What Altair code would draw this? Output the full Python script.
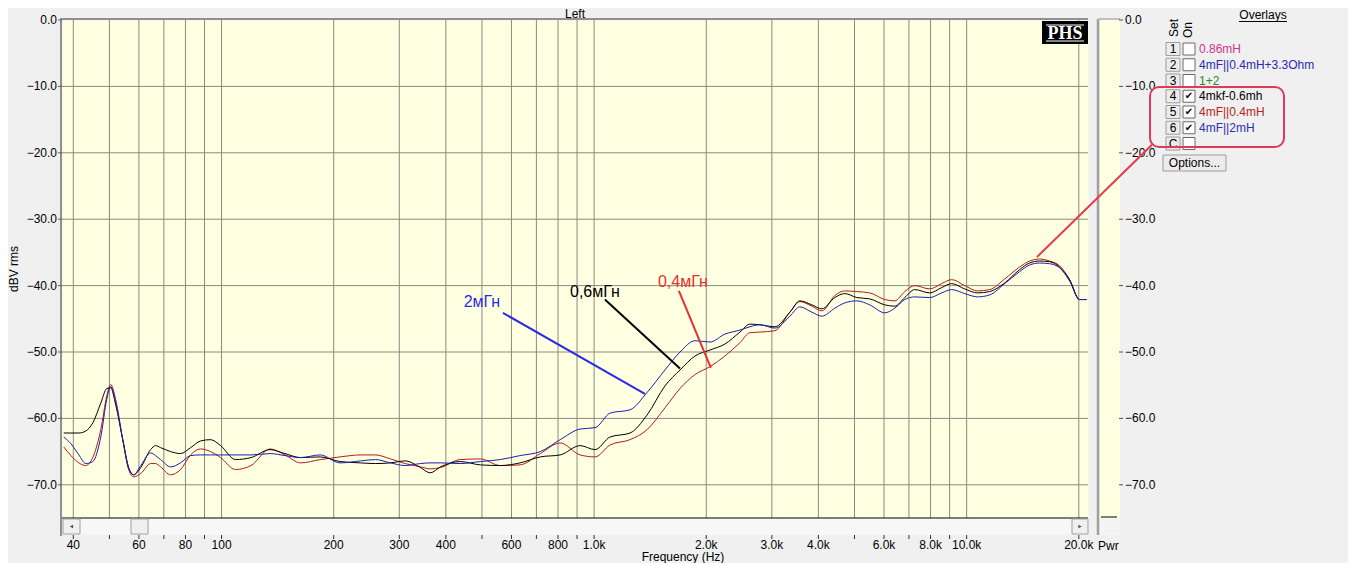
import altair as alt
import pandas as pd

# ---------------- data ----------------
freqs = [37.7, 39.4, 41.4, 43.2, 45.1, 47.4, 49.2, 50.4, 52.0, 54.3,
         56.3, 58.1, 60.7, 64.5, 66.5, 68.6, 73.0, 77.6, 82.6, 87.8,
         93.4, 99.4, 109, 120, 135, 148, 163, 184, 208, 236,
         259, 284, 311, 342, 363, 387, 437, 495, 560, 633,
         717, 811, 917, 1006, 1104, 1249, 1387, 1550, 1701, 1866,
         2047, 2245, 2463, 2620, 2786, 3057, 3354, 3567, 3841, 4086,
         4428, 4709, 5072, 5495, 6028, 6412, 6822, 7255, 7959, 8570,
         9117, 9877, 10700, 11530, 12650, 13870, 14750, 15690, 16690, 17750,
         18890, 20090, 20980]

black_db = [-62.2, -62.2, -62.2, -61.9, -60.7, -57.7, -55.5, -55.4, -58.0, -63.2,
            -67.4, -68.5, -67.4, -64.7, -64.1, -64.4, -65.0, -65.3, -64.4, -63.4,
            -63.2, -64.1, -66.2, -65.9, -64.7, -65.3, -65.9, -65.8, -66.5, -66.7,
            -66.8, -66.7, -66.4, -67.4, -68.2, -67.3, -66.5, -67.0, -67.1, -66.7,
            -65.8, -65.5, -64.1, -64.7, -62.8, -62.2, -59.5, -55.1, -52.7, -50.6,
            -49.7, -48.8, -47.0, -45.8, -45.9, -46.2, -44.0, -42.3, -42.9, -43.5,
            -41.8, -41.2, -41.8, -42.0, -42.9, -43.1, -41.8, -40.6, -41.1, -40.3,
            -39.7, -40.5, -41.1, -40.9, -39.6, -37.6, -36.6, -36.3, -36.4, -37.2,
            -39.1, -42.1, -42.1]

red_db = [-64.3, -65.6, -66.7, -67.1, -65.9, -61.7, -56.6, -54.9, -57.2, -63.2,
          -67.7, -68.8, -68.3, -66.8, -66.8, -67.3, -68.5, -67.7, -65.5, -64.6,
          -65.0, -65.9, -67.7, -67.1, -64.6, -65.5, -66.7, -66.2, -65.8, -65.5,
          -65.5, -66.1, -66.8, -67.3, -67.6, -67.4, -66.2, -66.1, -67.1, -67.0,
          -65.3, -63.7, -65.5, -65.8, -64.0, -63.2, -61.7, -58.4, -55.5, -53.4,
          -52.2, -50.6, -48.6, -47.1, -47.0, -46.8, -44.0, -42.4, -43.1, -43.8,
          -41.5, -40.8, -40.9, -41.1, -42.1, -42.3, -40.9, -40.0, -40.5, -39.7,
          -39.1, -40.0, -40.8, -40.6, -39.0, -37.2, -36.3, -36.0, -36.3, -37.0,
          -39.1, -42.1, -42.1]

blue_db = [-62.8, -63.8, -65.5, -66.8, -66.5, -62.8, -57.1, -55.2, -57.7, -63.2,
           -67.4, -68.5, -67.1, -65.2, -65.6, -66.2, -67.3, -66.7, -65.6, -65.5,
           -65.5, -65.5, -65.5, -65.5, -65.3, -65.6, -65.9, -65.5, -66.7, -66.4,
           -66.2, -66.7, -67.1, -66.8, -66.7, -66.7, -66.8, -66.5, -66.2, -65.6,
           -65.0, -63.2, -61.6, -61.4, -59.2, -58.7, -56.1, -52.7, -50.0, -48.3,
           -48.5, -47.3, -46.7, -46.2, -45.9, -46.4, -44.6, -43.2, -44.0, -44.6,
           -43.4, -42.6, -42.3, -42.9, -44.1, -43.4, -42.1, -41.7, -41.8, -41.1,
           -40.6, -41.2, -41.7, -41.4, -39.7, -37.9, -36.9, -36.6, -36.7, -37.3,
           -39.3, -42.1, -42.1]

grid_freqs = [40, 50, 60, 70, 80, 90, 100, 200, 300, 400, 500, 600, 700, 800, 900,
              1000, 2000, 3000, 4000, 5000, 6000, 7000, 8000, 9000, 10000, 20000]
label_freqs = [40, 60, 80, 100, 200, 300, 400, 600, 800, 1000, 2000, 3000, 4000,
               6000, 8000, 10000, 20000]
label_texts = ["40", "60", "80", "100", "200", "300", "400", "600", "800", "1.0k",
               "2.0k", "3.0k", "4.0k", "6.0k", "8.0k", "10.0k", "20.0k"]
db_ticks = [0, -10, -20, -30, -40, -50, -60, -70]

overlay_set = ["1", "2", "3", "4", "5", "6", "C"]
overlay_labels = ["0.86mH", "4mF||0.4mH+3.3Ohm", "1+2", "4mkf-0.6mh", "4mF||0.4mH", "4mF||2mH", ""]
overlay_colors = ["#d0338a", "#2a2ab0", "#2a8a2a", "#000000", "#b52525", "#2f2fb0", "#000000"]
overlay_on = [False, False, False, True, True, True, False]

annot_text = ["2мГн", "0,6мГн", "0,4мГн"]
annot_text_f = [500, 1005, 1731]
annot_text_db = [-42.4, -40.9, -39.4]
annot_f1 = [569, 1069, 1689]
annot_db1 = [-44.1, -42.1, -40.8]
annot_f2 = [1369, 1700, 2058]
annot_db2 = [-56.3, -52.5, -52.4]
annot_colors = ["#2b2be6", "#000000", "#e8302c"]

pointer_f = [15440, 31440]
pointer_db = [-35.7, -18.8]

# ---------------- styling ----------------
FONT = "Liberation Sans"
GRID = "#8a8a82"
W, H = 1026, 498
xs = alt.Scale(type="log", domain=[37.3, 21170], nice=False)
ys = alt.Scale(domain=[-75, 0], nice=False, zero=False)
one = pd.DataFrame({"k": [0]})


def T(s, x, y, **kw):
    kw.setdefault("font", FONT)
    kw.setdefault("fontSize", 12)
    kw.setdefault("color", "#000000")
    return alt.Chart(one).mark_text(**kw).encode(
        x=alt.value(x), y=alt.value(y), text=alt.value(s))


def R(x1, x2, y1, y2, **kw):
    return alt.Chart(one).mark_rect(**kw).encode(
        x=alt.value(x1), x2=alt.value(x2), y=alt.value(y1), y2=alt.value(y2))


def L(x1, x2, y1, y2, **kw):
    return alt.Chart(one).mark_rule(**kw).encode(
        x=alt.value(x1), x2=alt.value(x2), y=alt.value(y1), y2=alt.value(y2))


# grid lines (drawn through the scales)
vgrid = alt.Chart(pd.DataFrame({"f": grid_freqs})).mark_rule(color=GRID, strokeWidth=1).encode(
    x=alt.X("f:Q", scale=xs, axis=None))
hgrid = alt.Chart(pd.DataFrame({"v": db_ticks[1:]})).mark_rule(color=GRID, strokeWidth=1).encode(
    y=alt.Y("v:Q", scale=ys, axis=None))

# x axis: ticks + labels
xtick = alt.Chart(pd.DataFrame({"f": grid_freqs})).mark_rule(color="#303030", strokeWidth=1).encode(
    x=alt.X("f:Q", scale=xs, axis=None), y=alt.value(515), y2=alt.value(519))
xlab = alt.Chart(pd.DataFrame({"f": label_freqs, "t": label_texts})).mark_text(
    font=FONT, fontSize=12, color="#000000", baseline="top").encode(
    x=alt.X("f:Q", scale=xs, axis=None), y=alt.value(520), text="t:N")

# left y axis
ydf = pd.DataFrame({"v": db_ticks})
ytick = alt.Chart(ydf).mark_rule(color="#606060").encode(
    x=alt.value(-4), x2=alt.value(0), y=alt.Y("v:Q", scale=ys, axis=None))
ylab = alt.Chart(ydf).mark_text(align="right", font=FONT, fontSize=12, color="#000000").encode(
    x=alt.value(-5), y=alt.Y("v:Q", scale=ys, axis=None), text=alt.Text("v:Q", format=".1f"))


def curve(vals, color):
    d = pd.DataFrame({"f": freqs, "db": vals})
    return alt.Chart(d).mark_line(color=color, strokeWidth=1, interpolate="monotone").encode(
        x=alt.X("f:Q", scale=xs, axis=None),
        y=alt.Y("db:Q", scale=ys, axis=None))


red_line = curve(red_db, "#b31b1b")
black_line = curve(black_db, "#000000")
blue_line = curve(blue_db, "#1c1cb4")

ann = pd.DataFrame({"t": annot_text, "tf": annot_text_f, "tdb": annot_text_db,
                    "f1": annot_f1, "db1": annot_db1, "f2": annot_f2, "db2": annot_db2,
                    "c": annot_colors})
ann_lines = alt.Chart(ann).mark_rule(strokeWidth=2).encode(
    x=alt.X("f1:Q", scale=xs, axis=None), x2="f2:Q",
    y=alt.Y("db1:Q", scale=ys, axis=None), y2="db2:Q",
    color=alt.Color("c:N", scale=None))
ann_text = alt.Chart(ann).mark_text(fontSize=16, font=FONT).encode(
    x=alt.X("tf:Q", scale=xs, axis=None), y=alt.Y("tdb:Q", scale=ys, axis=None),
    text="t:N", color=alt.Color("c:N", scale=None))

ptr = pd.DataFrame({"f1": [pointer_f[0]], "f2": [pointer_f[1]],
                    "d1": [pointer_db[0]], "d2": [pointer_db[1]]})
pointer = alt.Chart(ptr).mark_rule(strokeWidth=2, color="#e8384f").encode(
    x=alt.X("f1:Q", scale=xs, axis=None), x2="f2:Q",
    y=alt.Y("d1:Q", scale=ys, axis=None), y2="d2:Q")

# right "Pwr" scale (same dB scale)
pwr_lab = alt.Chart(ydf).mark_text(align="left", font=FONT, fontSize=12, color="#000000").encode(
    x=alt.value(1063), y=alt.Y("v:Q", scale=ys, axis=None), text=alt.Text("v:Q", format=".1f"))
pwr_tick = alt.Chart(ydf).mark_rule(color="#505050").encode(
    x=alt.value(1057), x2=alt.value(1061), y=alt.Y("v:Q", scale=ys, axis=None))

# overlays panel
ov = pd.DataFrame({"i": list(range(len(overlay_set))), "set": overlay_set, "lab": overlay_labels,
                   "c": overlay_colors, "chk": ["✔" if o else "" for o in overlay_on]})
ov_base = alt.Chart(ov).transform_calculate(
    py="29 + 15.75 * datum.i", py1="29 + 15.75 * datum.i - 6.5", py2="29 + 15.75 * datum.i + 6.5",
    cy1="29 + 15.75 * datum.i - 6", cy2="29 + 15.75 * datum.i + 6")
ov_btn = ov_base.mark_rect(fill="#ececec", stroke="#9c9c9c", strokeWidth=1).encode(
    x=alt.value(1104), x2=alt.value(1118),
    y=alt.Y("py1:Q", scale=None, axis=None), y2="py2:Q")
ov_num = ov_base.mark_text(font=FONT, fontSize=12, color="#000000").encode(
    x=alt.value(1111), y=alt.Y("py:Q", scale=None, axis=None), text="set:N")
ov_box = ov_base.mark_rect(fill="#ffffff", stroke="#6a6a6a", strokeWidth=1).encode(
    x=alt.value(1121), x2=alt.value(1133),
    y=alt.Y("cy1:Q", scale=None, axis=None), y2="cy2:Q")
ov_chk = ov_base.mark_text(font="DejaVu Sans", fontSize=10, fontWeight="bold", color="#000000").encode(
    x=alt.value(1127), y=alt.Y("py:Q", scale=None, axis=None), text="chk:N")
ov_lab = ov_base.mark_text(font=FONT, fontSize=12, align="left").encode(
    x=alt.value(1137), y=alt.Y("py:Q", scale=None, axis=None), text="lab:N",
    color=alt.Color("c:N", scale=None))

decor = [
    # plot frame
    L(-1, 1026, -1, -1, color="#909090", strokeWidth=2),
    L(-1, -1, -2, 516, color="#909090", strokeWidth=2),
    # scrollbar
    R(0, 1026, 498, 515, fill="#f7f7f7"),
    L(0, 1026, 498, 498, color="#000000", strokeWidth=1),
    R(1, 18, 499, 514, fill="#f0f0f0", stroke="#a0a0a0", strokeWidth=1),
    R(69, 86, 499, 514, fill="#f0f0f0", stroke="#a0a0a0", strokeWidth=1),
    R(1010, 1026, 499, 514, fill="#f0f0f0", stroke="#a0a0a0", strokeWidth=1),
    alt.Chart(one).mark_point(shape="triangle-left", filled=True, color="#000000", size=14).encode(
        x=alt.value(9.5), y=alt.value(506.5)),
    alt.Chart(one).mark_point(shape="triangle-right", filled=True, color="#000000", size=14).encode(
        x=alt.value(1018), y=alt.value(506.5)),
    xtick, xlab, ytick, ylab,
    # PHS logo
    R(980, 1026, 1, 24, fill="#000000"),
    L(984, 1022, 5, 5, color="#ffffff", strokeWidth=1),
    L(984, 1022, 21, 21, color="#ffffff", strokeWidth=1),
    T("PHS", 1003, 13.5, font="Liberation Serif", fontSize=18, fontWeight="bold", color="#ffffff"),
    # Pwr panel
    R(1038, 1058, 0, 498, fill="#ffffe1"),
    R(1038, 1058, 498, 515, fill="#f4f4f4"),
    L(1036, 1036, -1, 515, color="#a0a0a0", strokeWidth=2.5),
    L(1036, 1058, -1, -1, color="#c0c0c0", strokeWidth=2),
    L(1039, 1055, 497, 497, color="#000000", strokeWidth=1),
    pwr_tick, pwr_lab,
    T("Pwr", 1036, 526, align="left"),
    # titles
    T("Left", 513, -6),
    T("dBV rms", -48, 249, angle=270),
    T("Frequency (Hz)", 621, 537),
    # overlays panel
    T("Overlays", 1201, -5),
    L(1177, 1225, 1.5, 1.5, color="#000000", strokeWidth=1),
    T("Set", 1112, 8, angle=270),
    T("On", 1126, 10, angle=270),
    ov_btn, ov_num, ov_box, ov_chk, ov_lab,
    R(1088, 1222, 67, 127, fill="transparent", stroke="#e03a5a", strokeWidth=2, cornerRadius=9),
    R(1101, 1164, 135, 151, fill="#ececec", stroke="#9c9c9c", strokeWidth=1),
    T("Options...", 1132.5, 143),
]

chart = alt.layer(
    vgrid, hgrid, red_line, black_line, blue_line, ann_lines, ann_text, *decor, pointer
).properties(
    width=W, height=H,
    padding={"left": 54, "top": 12, "right": 260, "bottom": 45},
    autosize=alt.AutoSizeParams(type="none"),
    background="#f0f0f0",
).configure_view(fill="#ffffe1", stroke="transparent")

chart.save("out.html", embed_options={"renderer": "svg", "actions": False})
